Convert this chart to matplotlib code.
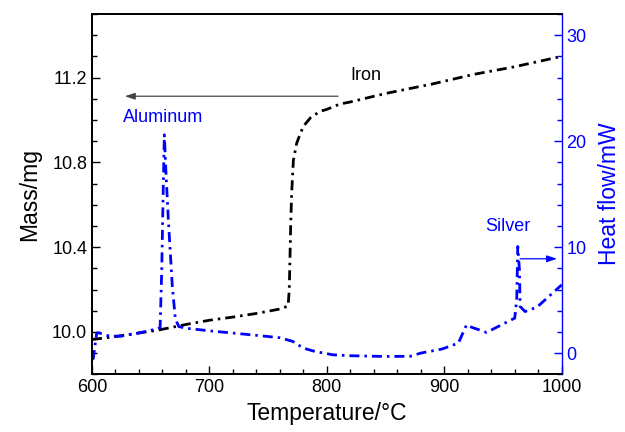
import matplotlib
matplotlib.use("Agg")
import matplotlib.pyplot as plt
from matplotlib.ticker import MultipleLocator, FormatStrFormatter

plt.rcParams["font.family"] = ["Liberation Sans", "DejaVu Sans"]

# 질량 곡선 (Iron, 왼쪽 축)
iron_temp = [600, 620, 640, 656, 680, 700, 720, 740, 760, 767, 768, 768.6, 769.2,
             770, 771.5, 774.3, 777, 780, 786, 794, 800, 811, 820, 850, 890, 925, 959, 1000]
iron_mass = [9.964, 9.978, 9.995, 10.008, 10.035, 10.055, 10.07, 10.087, 10.108, 10.122,
             10.2, 10.35, 10.5, 10.65, 10.81, 10.89, 10.93, 10.97, 11.01, 11.04, 11.05,
             11.075, 11.085, 11.125, 11.17, 11.215, 11.25, 11.30]

# 열류 곡선 (오른쪽 축)
hf_temp = [600, 601.1, 604, 606, 615, 625, 640, 656, 658, 659.4, 660.7, 661.6, 663, 665,
           668.4, 671, 674, 680, 692, 700, 735, 760, 771, 780, 790, 805, 820, 850, 871,
           880, 898, 912, 919, 923, 936, 960, 961.7, 962.6, 964, 964.6, 968.8, 979, 1000]
heat_flow = [-0.6, -0.5, 1.9, 1.9, 1.6, 1.6, 1.9, 2.3, 2.4, 7.9, 15.7, 20.6, 17.0, 12.6,
             6.3, 3.2, 2.5, 2.35, 2.2, 2.1, 1.73, 1.45, 1.1, 0.47, 0.15, -0.16, -0.25, -0.32,
             -0.3, 0.0, 0.38, 0.94, 2.67, 2.45, 1.95, 3.3, 5.0, 10.06, 7.9, 4.4, 3.92, 4.34, 6.44]

BLUE = "#0000ff"
DASH = (3.6, 1.8, 0.9, 1.8)

fig = plt.figure(figsize=(6.25, 4.32), dpi=100)
ax1 = fig.add_axes([0.1472, 0.1336, 0.7515, 0.834])
ax2 = ax1.twinx()

ax1.plot(iron_temp, iron_mass, color="black", lw=2.0, dashes=DASH)
ax2.plot(hf_temp, heat_flow, color=BLUE, lw=2.0, dashes=DASH)

ax1.set_xlim(600, 1000)
ax1.set_ylim(9.8, 11.5)
ax2.set_ylim(-2, 32)

ax1.xaxis.set_major_locator(MultipleLocator(100))
ax1.xaxis.set_minor_locator(MultipleLocator(20))
ax1.yaxis.set_major_locator(MultipleLocator(0.4))
ax1.yaxis.set_minor_locator(MultipleLocator(0.1))
ax1.yaxis.set_major_formatter(FormatStrFormatter("%.1f"))
ax2.yaxis.set_major_locator(MultipleLocator(10))
ax2.yaxis.set_minor_locator(MultipleLocator(2))

ax1.tick_params(axis="both", which="both", direction="in", labelsize=13, top=False)
ax1.tick_params(which="major", length=6, width=1.0)
ax1.tick_params(which="minor", length=3.5, width=1.0)
ax2.tick_params(axis="y", which="both", direction="in", labelsize=13,
                colors=BLUE)
ax2.tick_params(which="major", length=6, width=1.0)
ax2.tick_params(which="minor", length=3.5, width=1.0)

for s in ("left", "bottom", "top"):
    ax1.spines[s].set_linewidth(1.3)
    ax2.spines[s].set_linewidth(1.3)
ax2.spines["right"].set_color(BLUE)
ax2.spines["right"].set_linewidth(1.0)
ax1.spines["right"].set_visible(False)

ax1.set_xlabel("Temperature/°C", fontsize=16.5, labelpad=4)
ax1.set_ylabel("Mass/mg", fontsize=16.5, labelpad=8)
ax2.set_ylabel("Heat flow/mW", fontsize=16.5, color=BLUE, labelpad=8)

# 주석
ax1.text(820, 11.21, "Iron", fontsize=13, ha="left", va="center")
ax1.annotate("", xy=(628, 11.112), xytext=(809.5, 11.112),
             arrowprops=dict(arrowstyle="-|>,head_length=0.6,head_width=0.2",
                             color="#444444", lw=0.9, shrinkA=0, shrinkB=0))
ax2.text(660.5, 22.2, "Aluminum", fontsize=13, color=BLUE, ha="center", va="center")
ax2.text(954, 11.9, "Silver", fontsize=13, color=BLUE, ha="center", va="center")
ax2.annotate("", xy=(996, 8.9), xytext=(964.6, 8.9),
             arrowprops=dict(arrowstyle="-|>,head_length=0.6,head_width=0.2",
                             color=BLUE, lw=0.9, shrinkA=0, shrinkB=0))

fig.savefig("out.png", dpi=100)
